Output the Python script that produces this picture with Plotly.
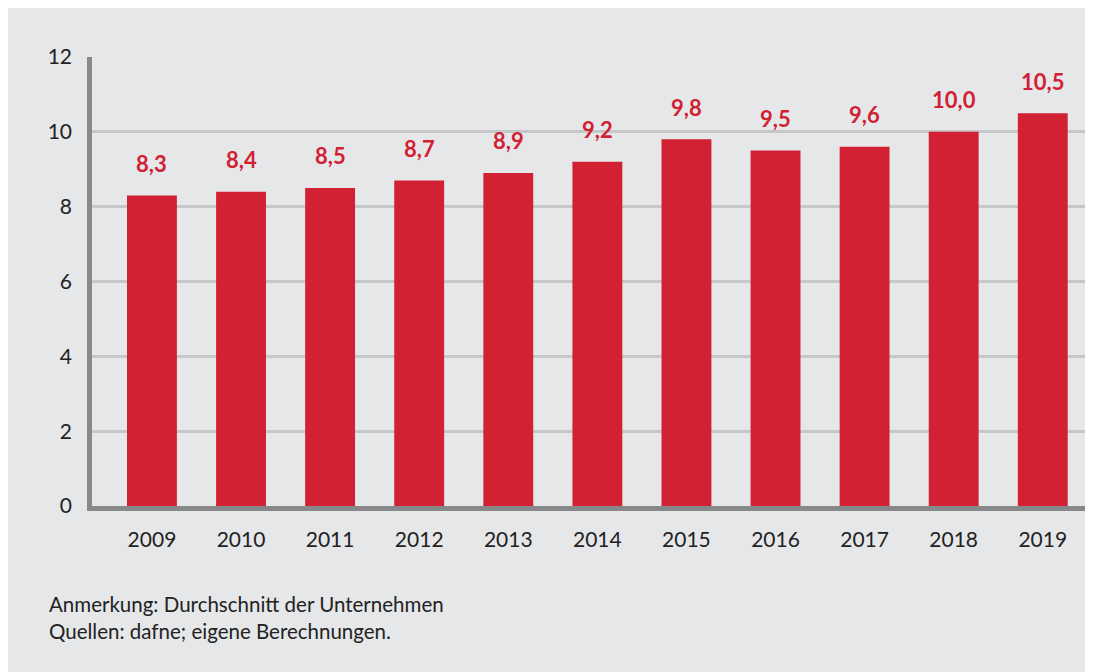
import plotly.graph_objects as go

years = ["2009", "2010", "2011", "2012", "2013", "2014", "2015", "2016", "2017", "2018", "2019"]
values = [8.3, 8.4, 8.5, 8.7, 8.9, 9.2, 9.8, 9.5, 9.6, 10.0, 10.5]
y_ticks = [0, 2, 4, 6, 8, 10, 12]
notes = ["Anmerkung: Durchschnitt der Unternehmen", "Quellen: dafne; eigene Berechnungen."]

RED = "#d12133"
BG = "#e6e7e9"
FONT = "Lato, 'Open Sans', sans-serif"

W, H = 1101, 672
L, R, T, B = 84, 11, 49, 174
pw, ph = W - L - R, H - T - B

fig = go.Figure()
fig.add_trace(go.Bar(
    x=list(range(len(years))), y=values,
    marker=dict(color=RED, line=dict(width=0)),
    width=0.56, hoverinfo="skip",
))

for i, v in enumerate(values):
    fig.add_annotation(
        x=i, y=v, text=f"{v:.1f}".replace(".", ","), showarrow=False,
        yanchor="middle", yshift=32,
        font=dict(family=FONT, size=22, color=RED, weight="bold"),
    )

for j, n in enumerate(notes):
    fig.add_annotation(
        xref="paper", yref="paper", x=(39 - L) / pw, y=(H - B - (596 + 27 * j)) / ph,
        xanchor="left", yanchor="middle", text=n, showarrow=False,
        font=dict(family=FONT, size=20.5, color="#222222"),
    )

fig.update_layout(
    width=W, height=H,
    margin=dict(l=L, r=R, t=T, b=B),
    paper_bgcolor=BG, plot_bgcolor=BG,
    showlegend=False,
    font=dict(family=FONT, size=21, color="#222222"),
    xaxis=dict(
        range=[-0.673, 10.62], tickmode="array",
        tickvals=list(range(len(years))), ticktext=years,
        showgrid=False, zeroline=False,
        showline=True, linecolor="#87888a", linewidth=4.5,
        ticks="", ticklabelstandoff=11,
        tickfont=dict(family=FONT, size=21, color="#222222"),
        fixedrange=True,
    ),
    yaxis=dict(
        range=[0, 12], tickmode="array", tickvals=y_ticks,
        showgrid=True, gridcolor="#c6c7c9", gridwidth=2.5,
        zeroline=False, showline=True, linecolor="#87888a", linewidth=4.5,
        ticks="", ticklabelstandoff=11,
        tickfont=dict(family=FONT, size=21, color="#222222"),
        fixedrange=True,
    ),
)

fig.write_html("out.html")
